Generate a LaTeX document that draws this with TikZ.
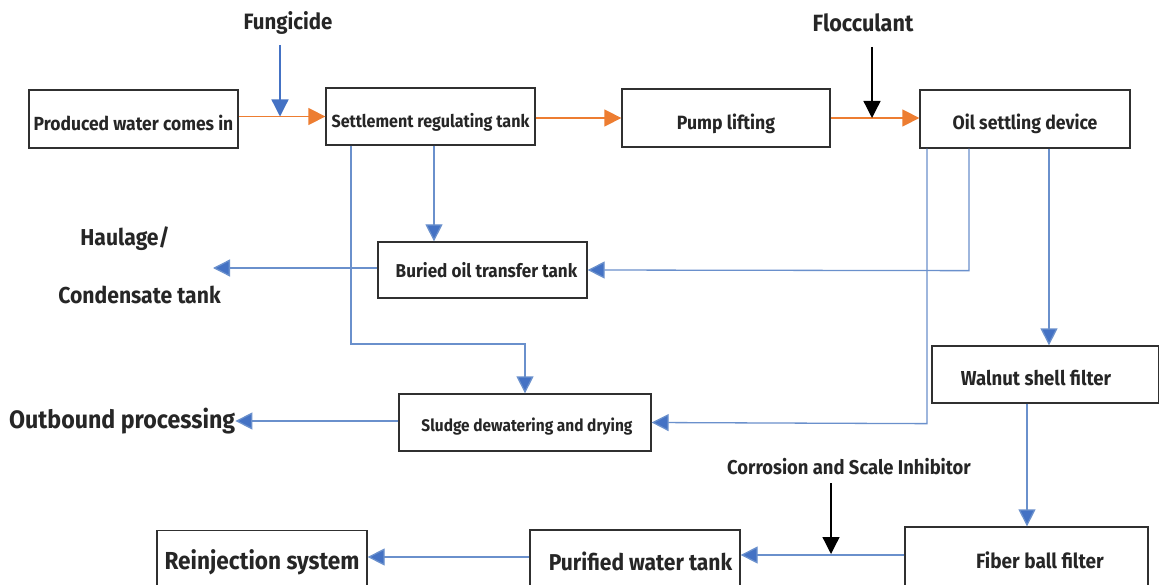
\documentclass[tikz,border=0pt]{standalone}
\usepackage{fontspec}
\setmainfont{Fira Sans}[FakeStretch=0.92]
\usetikzlibrary{arrows.meta,calc}
\definecolor{orng}{HTML}{ED7D31}
\definecolor{blu}{HTML}{4472C4}
\definecolor{lblu}{HTML}{6A90CC}
\definecolor{bord}{HTML}{303030}
\newcommand{\fs}[1]{\bfseries\fontsize{#1}{#1}\selectfont}
\newcommand{\dn}[2]{\raisebox{-#1pt}[\height][\depth]{#2}}
\begin{document}
\begin{tikzpicture}[x=1pt,y=-1pt,
  box/.style={draw=bord,line width=1.3pt,rectangle,inner sep=0pt,text=black!85},
  oflow/.style={draw=orng,line width=1.4pt,-{Triangle[width=17pt,length=17pt]},color=orng},
  bflow/.style={draw=lblu,line width=1.3pt,-{Triangle[width=17pt,length=17pt,fill=blu]},color=lblu},
  kflow/.style={draw=black,line width=1.3pt,-{Triangle[width=17pt,length=17pt]}},
  lbl/.style={inner sep=0pt,text=black!85}]
\clip (0,0) rectangle (1159,585);
\fill[white] (0,0) rectangle (1159,585);
% boxes
\node[box,minimum width=209pt,minimum height=58pt,font=\fs{19}] (prod) at (133.5,119) {\dn{4}{Produced water comes in}};
\node[box,minimum width=209pt,minimum height=57pt,font=\fs{17.5}] (settle) at (430.5,116.5) {\dn{6}{Settlement regulating tank}};
\node[box,minimum width=208pt,minimum height=58pt,font=\fs{19.2}] (pump) at (726,118) {\dn{6}{Pump lifting}};
\node[box,minimum width=210pt,minimum height=58pt,font=\fs{19.2}] (oil) at (1025,119) {\dn{5}{Oil settling device}};
\node[box,minimum width=209pt,minimum height=56pt,font=\fs{18.6}] (buried) at (482.5,270) {\hspace*{8pt}Buried oil transfer tank};
\node[box,minimum width=252pt,minimum height=57pt,font=\fs{16.8}] (sludge) at (525,422.5) {\dn{4}{\hspace*{4pt}Sludge dewatering and drying}};
\node[box,minimum width=227pt,minimum height=57pt,font=\fs{20.2}] (walnut) at (1045.5,374.5) {\dn{3.5}{Walnut shell filter\hspace*{19pt}}};
\node[box,minimum width=243pt,minimum height=60pt,font=\fs{20.7}] (fiber) at (1026.5,557) {\dn{3.5}{\hspace*{27pt}Fiber ball filter}};
\node[box,minimum width=210pt,minimum height=58pt,font=\fs{22.9}] (pure) at (635,559) {\dn{2}{\hspace*{11pt}Purified water tank}};
\node[box,minimum width=210pt,minimum height=57pt,font=\fs{24.6}] (reinj) at (262,559) {\dn{3}{Reinjection system}};
% free labels
\node[lbl,font=\fs{22.2}] (fung) at (288,23) {Fungicide};
\node[lbl,font=\fs{23.5}] (floc) at (863,23) {Flocculant};
\node[lbl,font=\fs{20}] (corr) at (849,467) {Corrosion and Scale Inhibitor};
\node[lbl,font=\fs{23}] (haul) at (125,239) {Haulage/};
\node[lbl,font=\fs{23}] (cond) at (139.5,295) {Condensate tank};
\node[lbl,font=\fs{25.2},anchor=west] (outb) at (9,421) {Outbound processing};
\coordinate (haulend) at (213,268);
% main orange flow
\draw[oflow] (prod.east |- settle.west) -- (settle.west);
\draw[oflow] (settle.east |- pump.west) -- (pump.west);
\draw[oflow] (pump.east) -- (oil.west |- pump.east);
% dosing arrows
\coordinate (fungtip) at (280,116.5);
\coordinate (floctip) at (872,118);
\coordinate (corrtip) at (831,554);
\draw[draw=blu,line width=1.3pt,-{Triangle[width=17pt,length=17pt,fill=blu]}] (280,45) -- (fungtip);
\draw[kflow] (872,47) -- (floctip);
\draw[kflow] (831,483) -- (corrtip);
% blue flows
\coordinate (fpy) at (0,555);
\coordinate (rpy) at (0,557);
\draw[bflow] ([xshift=3.5pt]settle.south) -- (buried.north -| {$([xshift=3.5pt]settle.south)$});
\draw[bflow] (buried.west) ++(0,-2) -- (haulend);
\draw[bflow] ([xshift=-56pt]oil.south) -- ++(0,122) -- ([yshift=0pt]buried.east);
\draw[bflow] ([xshift=-79.5pt]settle.south) |- (525,344) -- (sludge.north);
\draw[bflow] (sludge.west) ++(0,-1.5) -- (outb.east);
\draw[bflow] ([xshift=-98pt]oil.south) -- ++(0,275) -- (sludge.east);
\draw[bflow] ([xshift=24pt]oil.south) -- (walnut.north -| {$([xshift=24pt]oil.south)$});
\draw[bflow] ([xshift=-18.5pt]walnut.south) -- (fiber.north -| {$([xshift=-18.5pt]walnut.south)$});
\draw[bflow] (fiber.west |- fpy) -- (pure.east |- fpy);
\draw[bflow] (pure.west |- rpy) -- (reinj.east |- rpy);
\end{tikzpicture}
\end{document}
